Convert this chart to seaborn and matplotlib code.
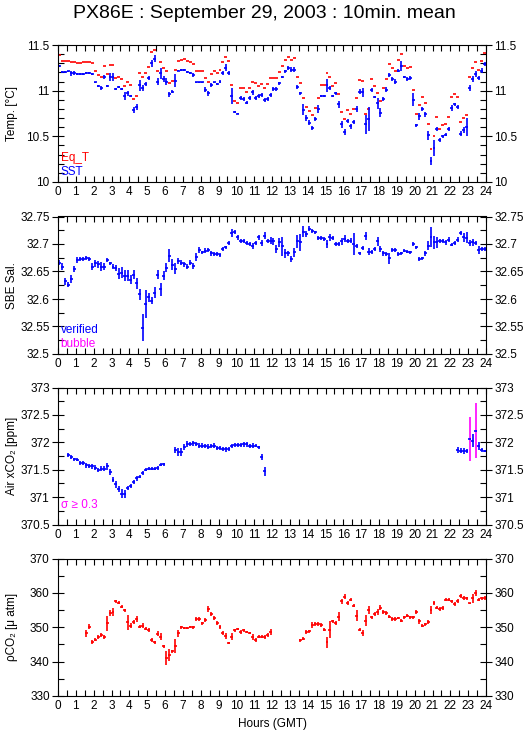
import numpy as np
import matplotlib
matplotlib.use("Agg")
import matplotlib.pyplot as plt
from matplotlib.ticker import MultipleLocator, FuncFormatter
import seaborn as sns

nan = np.nan

# 10-minute means, one row per hour (6 bins per hour)
sst = [
    [11.27, 11.20, 11.20, 11.21, 11.19, 11.19],
    [11.18, 11.18, 11.18, 11.19, 11.19, 11.18],
    [11.09, 11.05, 11.03, 11.15, 11.05, 11.15],
    [11.15, 11.02, 11.04, 11.02, 10.94, 10.97],
    [10.94, 10.79, 10.82, 11.06, 11.03, 11.07],
    [11.14, 11.30, 11.35, 11.10, 11.19, 11.13],
    [11.10, 10.96, 10.99, 11.11, 11.22, 11.23],
    [11.23, 11.20, 11.19, 11.17, 11.09, 11.09],
    [11.09, 11.01, 10.97, 11.06, 11.09, 11.07],
    [11.10, 11.19, 11.25, 11.19, 10.94, 10.77],
    [10.75, 10.92, 10.91, 10.87, 10.92, 10.98],
    [10.92, 10.94, 10.95, 10.90, 10.91, 10.95],
    [11.02, 11.02, 11.08, 11.15, 11.21, 11.25],
    [11.23, 11.23, 11.04, 10.97, 10.79, 10.70],
    [10.65, 10.59, 10.69, 10.80, 10.94, 10.94],
    [11.06, 11.03, 10.94, 10.97, 10.85, 10.63],
    [10.55, 10.67, 10.61, 10.66, 10.80, 10.99],
    [10.98, 10.63, 10.69, 11.01, 10.93, 10.86],
    [10.76, 10.91, 11.01, 11.17, 11.13, 11.10],
    [11.22, 11.27, 11.15, 11.13, 11.14, 10.90],
    [10.62, 10.72, 10.80, 10.74, 10.51, 10.23],
    [10.37, 10.58, 10.46, 10.50, 10.52, 10.58],
    [10.81, 10.85, 10.82, 10.53, 10.57, 10.60],
    [11.03, 11.13, 11.18, 11.14, 11.22, 11.29],
]
sst_sd = [
    [.01, .01, .01, .01, .03, .02],
    [.01, .01, .01, .01, .01, .01],
    [.01, .015, .02, .02, .01, .04],
    [.04, .01, .01, .01, .04, .03],
    [.01, .03, .03, .06, .03, .02],
    [.02, .04, .04, .04, .06, .03],
    [.04, .03, .02, .07, .01, .01],
    [.01, .01, .01, .02, .01, .01],
    [.01, .03, .03, .02, .01, .01],
    [.02, .02, .04, .02, .09, .01],
    [.01, .02, .02, .02, .02, .03],
    [.02, .02, .02, .02, .02, .02],
    [.02, .02, .02, .01, .02, .02],
    [.03, .03, .02, .02, .06, .03],
    [.03, .02, .02, .04, .01, .01],
    [.07, .02, .01, .02, .04, .04],
    [.03, .02, .03, .02, .03, .03],
    [.05, .10, .13, .02, .01, .06],
    [.05, .02, .03, .02, .02, .03],
    [.02, .06, .01, .02, .02, .07],
    [.02, .04, .02, .03, .05, .04],
    [.09, .02, .02, .02, .02, .02],
    [.03, .02, .02, .03, .03, .10],
    [.03, .03, .03, .02, .03, .02],
]
eq_t = [
    [11.39, 11.33, 11.33, 11.33, 11.31, 11.31],
    [11.30, 11.30, 11.31, 11.31, 11.31, 11.30],
    [11.22, 11.17, 11.15, 11.27, 11.18, 11.28],
    [11.28, 11.14, 11.15, 11.13, 11.05, 11.09],
    [11.06, 10.91, 10.94, 11.19, 11.15, 11.19],
    [11.26, 11.42, 11.45, 11.21, 11.31, 11.25],
    [11.22, 11.08, 11.11, 11.23, 11.33, 11.34],
    [11.35, 11.32, 11.31, 11.29, 11.21, 11.21],
    [11.22, 11.14, 11.09, 11.18, 11.21, 11.19],
    [11.23, 11.31, 11.37, 11.33, 11.06, 10.89],
    [10.87, 11.03, 11.03, 10.99, 11.03, 11.10],
    [11.08, 11.05, 11.07, 11.03, 11.07, 11.14],
    [11.14, 11.14, 11.20, 11.27, 11.34, 11.37],
    [11.34, 11.36, 11.15, 11.08, 10.92, 10.82],
    [10.78, 10.73, 10.81, 10.92, 11.06, 11.06],
    [11.19, 11.15, 11.05, 11.08, 10.96, 10.77],
    [10.69, 10.79, 10.74, 10.80, 10.92, 11.12],
    [11.11, 10.75, 10.80, 11.13, 11.05, 10.97],
    [10.89, 11.03, 11.13, 11.29, 11.25, 11.22],
    [11.34, 11.40, 11.27, 11.25, 11.26, 11.01],
    [10.75, 10.84, 10.93, 10.86, 10.64, 10.36],
    [10.50, 10.71, 10.58, 10.62, 10.63, 10.71],
    [10.93, 10.96, 10.93, 10.66, 10.70, 10.73],
    [11.15, 11.25, 11.31, 11.23, 11.33, 11.41],
]
sal = [
    [32.666, 32.659, 32.632, 32.626, 32.637, 32.655],
    [32.671, 32.673, 32.673, 32.675, 32.673, 32.659],
    [32.665, 32.663, 32.659, 32.659, 32.671, 32.665],
    [32.659, 32.656, 32.646, 32.648, 32.642, 32.642],
    [32.635, 32.644, 32.629, 32.609, 32.548, 32.591],
    [32.603, 32.597, 32.611, 32.644, 32.618, 32.642],
    [32.657, 32.679, 32.662, 32.655, 32.669, 32.666],
    [32.663, 32.659, 32.666, 32.660, 32.676, 32.689],
    [32.685, 32.688, 32.689, 32.683, 32.682, 32.682],
    [32.680, 32.691, 32.694, 32.702, 32.720, 32.722],
    [32.712, 32.706, 32.706, 32.702, 32.700, 32.696],
    [32.702, 32.712, 32.702, 32.715, 32.705, 32.706],
    [32.705, 32.691, 32.703, 32.696, 32.683, 32.683],
    [32.673, 32.685, 32.705, 32.703, 32.722, 32.718],
    [32.728, 32.724, 32.721, 32.711, 32.711, 32.709],
    [32.700, 32.712, 32.711, 32.700, 32.700, 32.705],
    [32.710, 32.706, 32.706, 32.700, 32.696, 32.683],
    [32.693, 32.714, 32.686, 32.685, 32.691, 32.705],
    [32.691, 32.683, 32.682, 32.674, 32.689, 32.689],
    [32.682, 32.683, 32.688, 32.686, 32.685, 32.700],
    [32.694, 32.673, 32.674, 32.683, 32.697, 32.712],
    [32.703, 32.703, 32.706, 32.706, 32.703, 32.708],
    [32.699, 32.702, 32.708, 32.720, 32.712, 32.711],
    [32.702, 32.703, 32.702, 32.689, 32.691, 32.691],
]
sal_sd = [
    [.005, .007, .007, .005, .007, .005],
    [.005, .003, .003, .004, .004, .006],
    [.006, .007, .008, .006, .003, .003],
    [.005, .005, .010, .010, .010, .010],
    [.008, .008, .010, .010, .025, .025],
    [.008, .006, .010, .008, .012, .008],
    [.008, .012, .010, .010, .006, .005],
    [.005, .005, .005, .005, .007, .005],
    [.003, .004, .004, .004, .004, .004],
    [.004, .003, .003, .004, .007, .004],
    [.004, .004, .004, .004, .004, .005],
    [.004, .004, .006, .006, .004, .006],
    [.006, .008, .008, .017, .008, .005],
    [.005, .008, .012, .015, .010, .005],
    [.004, .004, .003, .004, .004, .004],
    [.007, .006, .004, .004, .004, .006],
    [.006, .004, .005, .020, .004, .003],
    [.004, .007, .006, .004, .004, .008],
    [.006, .004, .003, .010, .004, .004],
    [.003, .003, .003, .003, .003, .004],
    [.003, .004, .003, .004, .008, .018],
    [.012, .010, .004, .004, .004, .004],
    [.003, .004, .004, .004, .008, .010],
    [.006, .006, .004, .008, .004, .004],
]
air = [
    [nan, nan, nan, 371.77, 371.73, 371.69],
    [371.68, 371.62, 371.62, 371.58, 371.57, 371.56],
    [371.54, 371.50, 371.52, 371.52, 371.56, 371.46],
    [371.32, 371.23, 371.15, 371.06, 371.06, 371.17],
    [371.20, 371.27, 371.34, 371.37, 371.44, 371.50],
    [371.52, 371.52, 371.52, 371.53, 371.59, 371.60],
    [nan, nan, nan, 371.86, 371.82, 371.82],
    [371.91, 371.97, 371.97, 371.98, 371.97, 371.94],
    [371.94, 371.93, 371.92, 371.93, 371.94, 371.90],
    [371.90, 371.88, 371.87, 371.88, 371.93, 371.95],
    [371.95, 371.95, 371.96, 371.96, 371.93, 371.94],
    [371.94, 371.91, 371.73, 371.47, nan, nan],
] + [[nan] * 6] * 10 + [
    [nan, nan, 371.86, 371.85, 371.84, 371.84],
    [372.06, 372.03, 372.21, 371.93, 371.86, 371.84],
]
air_sd = [
    [nan, nan, nan, .03, .03, .03],
    [.03, .04, .04, .04, .04, .04],
    [.04, .04, .04, .04, .06, .06],
    [.05, .06, .06, .08, .07, .04],
    [.03, .04, .04, .03, .03, .03],
    [.03, .03, .03, .03, .03, .03],
    [nan, nan, nan, .05, .07, .07],
    [.05, .05, .04, .04, .04, .04],
    [.04, .04, .04, .04, .04, .04],
    [.04, .04, .05, .04, .04, .04],
    [.04, .04, .04, .05, .04, .04],
    [.03, .03, .05, .08, nan, nan],
] + [[nan] * 6] * 10 + [
    [nan, nan, .05, .05, .05, .04],
    [.40, .12, .50, .07, .03, .02],
]
pco2 = [
    [nan] * 6,
    [nan, nan, nan, 348.3, 350.2, 345.6],
    [346.4, 347.2, 347.8, 347.2, 351.2, 354.1],
    [354.4, 357.5, 357.2, 356.0, 354.9, 351.4],
    [350.5, 351.5, 352.4, 350.2, 350.5, 349.6],
    [349.3, 346.2, 345.6, 348.1, 347.3, 344.5],
    [341.1, 341.9, 343.0, 344.5, 348.3, 350.0],
    [349.8, 349.8, 350.0, 350.0, 352.4, 352.4],
    [351.2, 352.2, 355.3, 353.8, 352.7, 351.2],
    [350.1, 348.3, 347.5, 345.4, 347.2, 349.1],
    [349.5, 348.6, 349.1, 348.6, 348.3, 347.1],
    [346.2, 347.3, 347.3, 347.2, 347.8, 348.6],
    [nan] * 6,
    [nan, nan, nan, 346.2, 346.7, 348.5],
    [348.8, 350.7, 351.0, 350.9, 350.7, 349.3],
    [345.6, 349.3, 351.7, 351.2, 353.1, 357.5],
    [358.9, 357.0, 358.0, 356.3, 353.4, 349.3],
    [348.3, 351.9, 355.1, 352.9, 353.8, 354.4],
    [355.7, 354.4, 354.1, 353.1, 352.4, 352.4],
    [352.7, 351.9, 352.9, 353.4, 352.9, 352.9],
    [354.4, 351.7, 350.5, 350.9, 351.5, 355.1],
    [357.0, 355.7, 355.3, 355.5, 358.0, 358.0],
    [357.5, 356.8, 357.7, 359.1, 358.4, 358.4],
    [357.0, 358.4, 359.9, 358.0, 358.4, 358.6],
]
pco2_sd = [
    [nan] * 6,
    [nan, nan, nan, 1.0, 0.7, 0.6],
    [0.5, 0.6, 0.6, 0.6, 2.2, 0.8],
    [1.2, 0.4, 0.5, 0.5, 0.5, 2.2],
    [0.6, 0.6, 0.8, 0.5, 0.7, 0.5],
    [0.6, 0.6, 0.5, 0.7, 1.0, 0.4],
    [2.0, 1.8, 0.5, 2.0, 1.0, 0.5],
    [0.3, 0.3, 0.3, 0.5, 0.6, 0.5],
    [0.4, 0.6, 0.8, 0.6, 0.5, 0.5],
    [0.5, 0.6, 0.8, 0.2, 1.0, 0.5],
    [0.4, 0.5, 0.5, 0.4, 0.4, 0.8],
    [0.6, 0.5, 0.4, 0.5, 0.6, 0.8],
    [nan] * 6,
    [nan, nan, nan, 0.5, 0.5, 0.6],
    [0.5, 0.8, 0.5, 0.5, 0.6, 0.5],
    [1.5, 2.5, 0.5, 0.5, 1.2, 0.8],
    [0.8, 0.6, 0.4, 0.4, 1.5, 0.4],
    [0.8, 1.6, 1.2, 0.4, 0.5, 0.8],
    [0.8, 0.5, 0.5, 0.5, 0.5, 0.5],
    [0.4, 0.4, 0.5, 0.4, 0.5, 0.5],
    [0.5, 0.8, 0.4, 0.4, 0.5, 1.2],
    [0.6, 0.5, 0.5, 0.6, 0.5, 0.5],
    [0.4, 0.5, 0.5, 0.5, 0.6, 0.5],
    [0.2, 1.2, 0.8, 0.5, 0.5, 0.6],
]

hours = np.arange(144) / 6 + 1 / 12   # bin centres (GMT hours)
half_bin = 5 / 60

sns.set_style("ticks")
plt.rcParams["font.family"] = ["Liberation Sans", "DejaVu Sans"]
plt.rcParams.update({
    "axes.linewidth": 0.8,
    "text.color": "black",
    "axes.labelcolor": "black",
    "xtick.color": "black",
    "ytick.color": "black",
    "axes.edgecolor": "black",
})

W, H = 529, 739
fig = plt.figure(figsize=(W / 100, H / 100), dpi=100)


def panel(top, bottom):
    ax = fig.add_axes([58 / W, 1 - bottom / H, 428 / W, (bottom - top) / H])
    ax.set_xlim(0, 24)
    ax.set_xticks(range(25))
    ax.xaxis.set_minor_locator(MultipleLocator(0.5))
    ax.tick_params(axis="x", which="both", direction="in", top=True,
                   length=4, width=0.8, labelsize=8.5, pad=3)
    ax.tick_params(axis="y", which="major", direction="inout", length=8,
                   width=0.8, left=True, right=True, labelleft=True,
                   labelright=True, labelsize=8.5, pad=2)
    ax.tick_params(axis="y", which="minor", direction="in", length=4,
                   width=0.8, left=True, right=True)
    ax.yaxis.set_major_formatter(FuncFormatter(lambda v, p: f"{v:g}"))
    ax.yaxis.set_label_coords(-0.093, 0.5)
    return ax


def bars(ax, y, err, color, xerr=half_bin):
    y = np.ravel(y)
    e = None if err is None else np.ravel(err)
    ax.errorbar(hours, y, xerr=xerr, yerr=e, fmt="none", ecolor=color,
                elinewidth=1.2, capsize=0)


fig.text(0.5, 1 - 13 / H, "PX86E : September 29, 2003 : 10min. mean",
         ha="center", va="center", fontsize=14)

# Temperature
ax1 = panel(45, 182)
bars(ax1, eq_t, None, "red")
bars(ax1, sst, sst_sd, "blue")
ax1.set_ylim(10, 11.5)
ax1.yaxis.set_major_locator(MultipleLocator(0.5))
ax1.yaxis.set_minor_locator(MultipleLocator(0.1))
ax1.set_ylabel("Temp. [°C]", fontsize=8.5)
ax1.text(0.006, 0.15, "Eq_T", color="red", transform=ax1.transAxes, fontsize=8.5)
ax1.text(0.006, 0.05, "SST", color="blue", transform=ax1.transAxes, fontsize=8.5)

# Salinity
ax2 = panel(216.5, 354)
bars(ax2, sal, sal_sd, "blue")
ax2.set_ylim(32.5, 32.75)
ax2.yaxis.set_major_locator(MultipleLocator(0.05))
ax2.yaxis.set_minor_locator(MultipleLocator(0.025))
ax2.set_ylabel("SBE Sal.", fontsize=8.5)
ax2.text(0.006, 0.15, "verified", color="blue", transform=ax2.transAxes, fontsize=8.5)
ax2.text(0.006, 0.05, "bubble", color="#ff00ff", transform=ax2.transAxes, fontsize=8.5)

# Air xCO2
ax3 = panel(387.5, 524.5)
air_v = np.ravel(air)
air_e = np.ravel(air_sd)
flag = air_e >= 0.3
ax3.errorbar(hours[~flag], air_v[~flag], xerr=half_bin, yerr=air_e[~flag],
             fmt="none", ecolor="blue", elinewidth=1.2, capsize=0)
ax3.errorbar(hours[flag], air_v[flag], yerr=air_e[flag], fmt="none",
             ecolor="#ff00ff", elinewidth=1.2, capsize=0)
ax3.errorbar(hours[flag], air_v[flag], xerr=half_bin, fmt="none",
             ecolor="blue", elinewidth=1.2, capsize=0)
ax3.set_ylim(370.5, 373)
ax3.yaxis.set_major_locator(MultipleLocator(0.5))
ax3.yaxis.set_minor_locator(MultipleLocator(0.25))
ax3.set_ylabel("Air xCO₂ [ppm]", fontsize=8.5)
ax3.text(0.006, 0.12, "σ ≥ 0.3", color="#ff00ff", transform=ax3.transAxes, fontsize=8.5)

# pCO2
ax4 = panel(558.5, 696)
bars(ax4, pco2, pco2_sd, "red")
ax4.set_ylim(330, 370)
ax4.yaxis.set_major_locator(MultipleLocator(10))
ax4.yaxis.set_minor_locator(MultipleLocator(5))
ax4.set_ylabel("ρCO₂ [μ atm]", fontsize=8.5)
ax4.set_xlabel("Hours (GMT)", fontsize=8.5, labelpad=4)

fig.savefig("out.png", dpi=100)
